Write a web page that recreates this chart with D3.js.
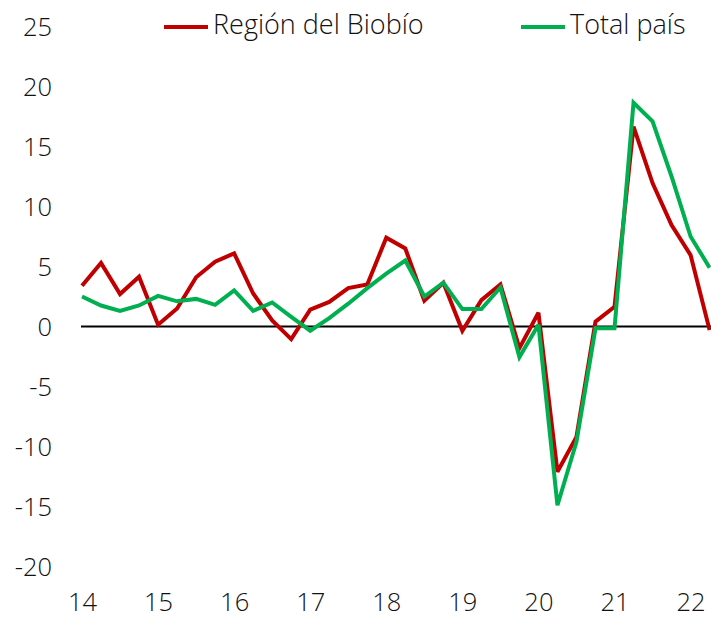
<!DOCTYPE html>
<html>
<head>
<meta charset="utf-8">
<script src="https://cdn.jsdelivr.net/npm/d3@7"></script>
<style>
  html, body { margin: 0; padding: 0; background: #fff; }
  svg text { font-family: "Open Sans", "Lato", "Liberation Sans", sans-serif; font-weight: 300; fill: #111; }
</style>
</head>
<body>
<svg id="chart" width="711" height="619"></svg>
<script>
// Quarterly series, 2014 Q1 to 2022 Q2 (year-on-year % change)
const quarters = d3.range(34);
const yearLabels = ["14", "15", "16", "17", "18", "19", "20", "21", "22"];
const biobio = [3.4, 5.3, 2.7, 4.15, 0.15, 1.5, 4.1, 5.4, 6.1, 2.75, 0.5, -1.05,
  1.4, 2.05, 3.2, 3.5, 7.4, 6.5, 2.15, 3.65, -0.35, 2.2, 3.5, -1.8,
  1.15, -12.1, -9.2, 0.4, 1.65, 16.65, 11.95, 8.45, 5.95, -0.3];
const totalPais = [2.5, 1.75, 1.3, 1.75, 2.55, 2.1, 2.3, 1.8, 3.0, 1.3, 2.0, 0.8,
  -0.35, 0.7, 1.9, 3.2, 4.4, 5.5, 2.5, 3.65, 1.45, 1.45, 3.25, -2.55,
  0.15, -14.9, -9.6, -0.15, -0.15, 18.65, 17.1, 12.5, 7.5, 4.9];
const yTicks = [25, 20, 15, 10, 5, 0, -5, -10, -15, -20];

const seriesNames = ["Región del Biobío", "Total país"];
const seriesColors = ["#C00000", "#00B050"];

const svg = d3.select("#chart");

const x = d3.scaleLinear().domain([0, 33]).range([82, 709.6]);
const y = d3.scaleLinear().domain([-20, 25]).range([566.5, 26.5]);

// Y axis labels (no axis line), plain hyphen for negatives
const yAxis = d3.axisLeft(y).tickValues(yTicks).tickSize(0).tickPadding(0)
  .tickFormat(d => String(d));
const gy = svg.append("g").attr("transform", "translate(52,0)").call(yAxis);
gy.select(".domain").remove();
gy.selectAll("text").attr("font-size", 25.5).attr("dy", "0.35em")
  .style("font-family", null).attr("fill", "#111");

// X axis labels, one per year at the first quarter
const xAxis = d3.axisBottom(x).tickValues(yearLabels.map((_, i) => i * 4))
  .tickSize(0).tickPadding(0).tickFormat((d, i) => yearLabels[i]);
const gx = svg.append("g").attr("transform", "translate(0,593)").call(xAxis);
gx.select(".domain").remove();
gx.selectAll("text").attr("font-size", 25.5).attr("dy", "0.71em")
  .style("font-family", null).attr("fill", "#111");

// Zero line
svg.append("line")
  .attr("x1", 81).attr("x2", 711)
  .attr("y1", y(0)).attr("y2", y(0))
  .attr("stroke", "#000").attr("stroke-width", 2);

const line = d3.line().x((d, i) => x(quarters[i])).y(d => y(d));

[biobio, totalPais].forEach((vals, k) => {
  svg.append("path")
    .datum(vals)
    .attr("d", line)
    .attr("fill", "none")
    .attr("stroke", seriesColors[k])
    .attr("stroke-width", 4)
    .attr("stroke-linejoin", "miter")
    .attr("stroke-miterlimit", 3);
});

// Legend
const legendItems = [
  { name: seriesNames[0], color: seriesColors[0], x0: 164 },
  { name: seriesNames[1], color: seriesColors[1], x0: 521 }
];
const lg = svg.append("g");
legendItems.forEach(it => {
  lg.append("line")
    .attr("x1", it.x0).attr("x2", it.x0 + 44)
    .attr("y1", 27).attr("y2", 27)
    .attr("stroke", it.color).attr("stroke-width", 4);
  lg.append("text")
    .attr("x", it.x0 + 49).attr("y", 25)
    .attr("dy", "0.35em")
    .attr("font-size", 27)
    .text(it.name);
});
</script>
</body>
</html>
